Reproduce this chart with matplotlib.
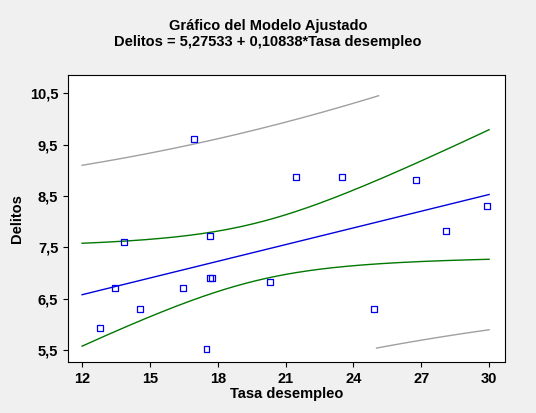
import numpy as np
import matplotlib
matplotlib.use("Agg")
import matplotlib.pyplot as plt
plt.rcParams['font.family'] = ['Liberation Sans', 'DejaVu Sans']

x = np.array([12.8,13.86,13.46,14.57,16.96,16.47,17.66,17.66,17.75,17.5,20.3,21.45,23.5,24.9,26.75,28.1,29.9])
y = np.array([5.93,7.6,6.71,6.3,9.6,6.71,7.72,6.9,6.9,5.52,6.82,8.87,8.87,6.3,8.81,7.82,8.3])
b0, b1 = 5.27533, 0.10838
xticks = [12,15,18,21,24,27,30]
yticks = [5.5,6.5,7.5,8.5,9.5,10.5]
ylabels = ["5,5","6,5","7,5","8,5","9,5","10,5"]

n = len(x)
res = y - (b0 + b1*x)
s = np.sqrt(np.sum(res**2)/(n-2))
xm = x.mean(); sxx = np.sum((x-xm)**2)
t = 2.131
xs = np.linspace(12, 30, 200)
fit = b0 + b1*xs
se_m = s*np.sqrt(1/n + (xs-xm)**2/sxx)
se_p = s*np.sqrt(1 + 1/n + (xs-xm)**2/sxx)

fig = plt.figure(figsize=(5.36,4.13), dpi=100, facecolor="#f0f0f0")
ax = fig.add_axes([0.127, 0.124, 0.815, 0.694])
ax.plot(xs, fit, color="#0000dd", lw=1)
ax.plot(xs, fit+t*se_m, color="#007700", lw=1)
ax.plot(xs, fit-t*se_m, color="#007700", lw=1)
up = fit+t*se_p; lo = fit-t*se_p
m1 = xs <= 25.2; m2 = xs >= 25
ax.plot(xs[m1], up[m1], color="#a0a0a0", lw=1)
ax.plot(xs[m2], lo[m2], color="#a0a0a0", lw=1)
ax.scatter(x, y, marker="s", s=18, facecolors="none", edgecolors="#0000ee", linewidths=0.9, zorder=3)
ax.set_xlim(11.38, 30.7)
ax.set_ylim(5.27, 10.85)
ax.set_xticks(xticks)
ax.set_xticklabels([str(v) for v in xticks], fontweight="bold", fontsize=10.5)
ax.set_yticks(yticks)
ax.set_yticklabels(ylabels, fontweight="bold", fontsize=10.5)
ax.set_xlabel("Tasa desempleo", fontweight="bold", fontsize=10.5, labelpad=1)
ax.set_ylabel("Delitos", fontweight="bold", fontsize=10.5)
fig.suptitle("Gráfico del Modelo Ajustado\nDelitos = 5,27533 + 0,10838*Tasa desempleo", y=0.955, fontweight="bold", fontsize=10.5)
fig.savefig("out.png", dpi=100, facecolor=fig.get_facecolor())
